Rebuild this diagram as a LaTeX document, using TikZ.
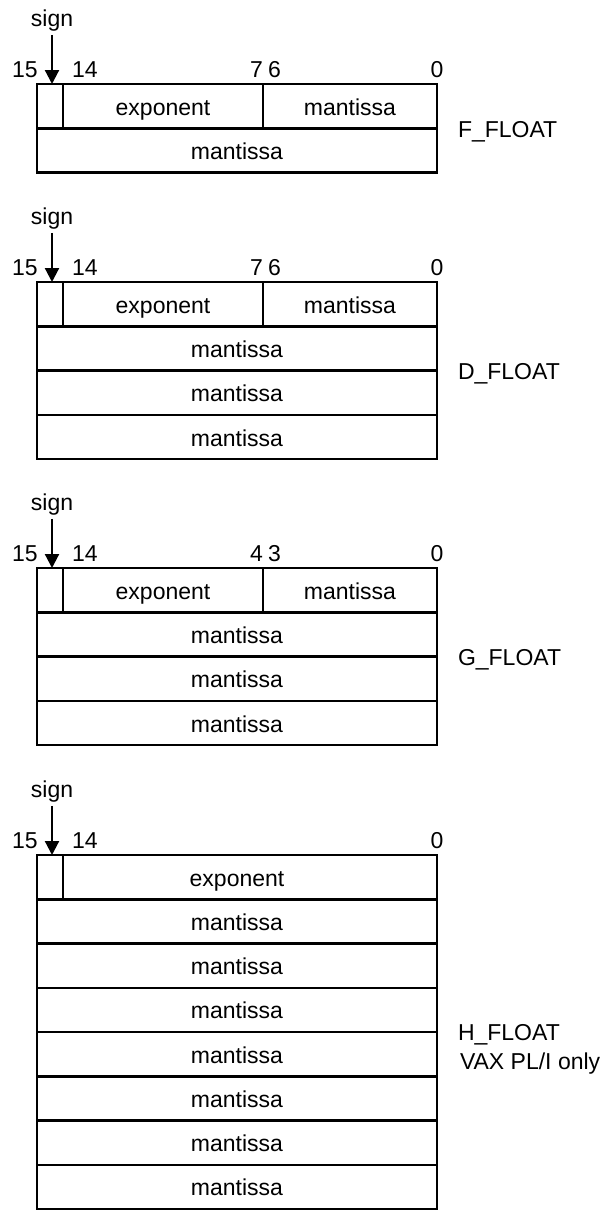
\documentclass[tikz,border=0pt]{standalone}
\usepackage{fontspec}
\setmainfont{Liberation Sans}
\usetikzlibrary{arrows.meta}

\begin{document}
\begin{tikzpicture}[x=1pt,y=-1pt,
  txt/.style={font=\fontsize{23}{27}\selectfont, inner sep=0pt, outer sep=0pt},
  cell/.style={txt, draw, line width=2.4pt, rectangle, anchor=north west,
    minimum height=44.3pt, text height=18pt, text depth=0pt},
  bitno/.style={txt, anchor=base},
  tag/.style={txt, anchor=base west},
  signarrow/.style={line width=2.2pt, -{Triangle[width=14pt,length=14pt]}}
]
\useasboundingbox (0,0) rectangle (607,1211);

% ---------------- F_FLOAT ----------------
\node[cell, minimum width=400pt] (Fm1) at (37,128.3) {mantissa};
\node[cell, minimum width=26pt]  (Fs)  at (37,84) {};
\node[cell, minimum width=200pt] (Fe)  at (63,84) {exponent};
\node[cell, minimum width=174pt] (Fm0) at (263,84) {mantissa};
\node[bitno] (Fsign) at (52,26) {sign};
\draw[signarrow] ([yshift=-4pt]Fsign.south) -- (Fsign.south |- Fs.north);
\node[bitno] (F15) at (25,77) {15};
\node[bitno] (F14) at (85,77) {14};
\node[txt, anchor=base east] (F7) at (263,77) {7};
\node[txt, anchor=base west] (F6) at (268,77) {6};
\node[bitno] (F0) at (437,77) {0};
\node[tag] (Fname) at (458,137) {F\_FLOAT};

% ---------------- D_FLOAT ----------------
\node[cell, minimum width=400pt] (Dm1) at (37,326.3) {mantissa};
\node[cell, minimum width=400pt] (Dm2) at (37,370.6) {mantissa};
\node[cell, minimum width=400pt] (Dm3) at (37,414.9) {mantissa};
\node[cell, minimum width=26pt]  (Ds)  at (37,282) {};
\node[cell, minimum width=200pt] (De)  at (63,282) {exponent};
\node[cell, minimum width=174pt] (Dm0) at (263,282) {mantissa};
\node[bitno] (Dsign) at (52,224) {sign};
\draw[signarrow] ([yshift=-4pt]Dsign.south) -- (Dsign.south |- Ds.north);
\node[bitno] (D15) at (25,275) {15};
\node[bitno] (D14) at (85,275) {14};
\node[txt, anchor=base east] (D7) at (263,275) {7};
\node[txt, anchor=base west] (D6) at (268,275) {6};
\node[bitno] (D0) at (437,275) {0};
\node[tag] (Dname) at (458,379) {D\_FLOAT};

% ---------------- G_FLOAT ----------------
\node[cell, minimum width=400pt] (Gm1) at (37,612.3) {mantissa};
\node[cell, minimum width=400pt] (Gm2) at (37,656.6) {mantissa};
\node[cell, minimum width=400pt] (Gm3) at (37,700.9) {mantissa};
\node[cell, minimum width=26pt]  (Gs)  at (37,568) {};
\node[cell, minimum width=200pt] (Ge)  at (63,568) {exponent};
\node[cell, minimum width=174pt] (Gm0) at (263,568) {mantissa};
\node[bitno] (Gsign) at (52,510) {sign};
\draw[signarrow] ([yshift=-4pt]Gsign.south) -- (Gsign.south |- Gs.north);
\node[bitno] (G15) at (25,561) {15};
\node[bitno] (G14) at (85,561) {14};
\node[txt, anchor=base east] (G4) at (263,561) {4};
\node[txt, anchor=base west] (G3) at (268,561) {3};
\node[bitno] (G0) at (437,561) {0};
\node[tag] (Gname) at (458,665) {G\_FLOAT};

% ---------------- H_FLOAT ----------------
\node[cell, minimum width=400pt] (He)  at (37,855) {exponent};
\node[cell, minimum width=26pt]  (Hs)  at (37,855) {};
\node[cell, minimum width=400pt] (Hm1) at (37,899.25) {mantissa};
\node[cell, minimum width=400pt] (Hm2) at (37,943.5) {mantissa};
\node[cell, minimum width=400pt] (Hm3) at (37,987.75) {mantissa};
\node[cell, minimum width=400pt] (Hm4) at (37,1032) {mantissa};
\node[cell, minimum width=400pt] (Hm5) at (37,1076.25) {mantissa};
\node[cell, minimum width=400pt] (Hm6) at (37,1120.5) {mantissa};
\node[cell, minimum width=400pt] (Hm7) at (37,1164.75) {mantissa};
\node[bitno] (Hsign) at (52,797) {sign};
\draw[signarrow] ([yshift=-4pt]Hsign.south) -- (Hsign.south |- Hs.north);
\node[bitno] (H15) at (25,848) {15};
\node[bitno] (H14) at (85,848) {14};
\node[bitno] (H0) at (437,848) {0};
\node[tag] (Hname) at (458,1040) {H\_FLOAT};
\node[tag] (Hnote) at (460,1069) {VAX PL/I only};

\end{tikzpicture}
\end{document}
